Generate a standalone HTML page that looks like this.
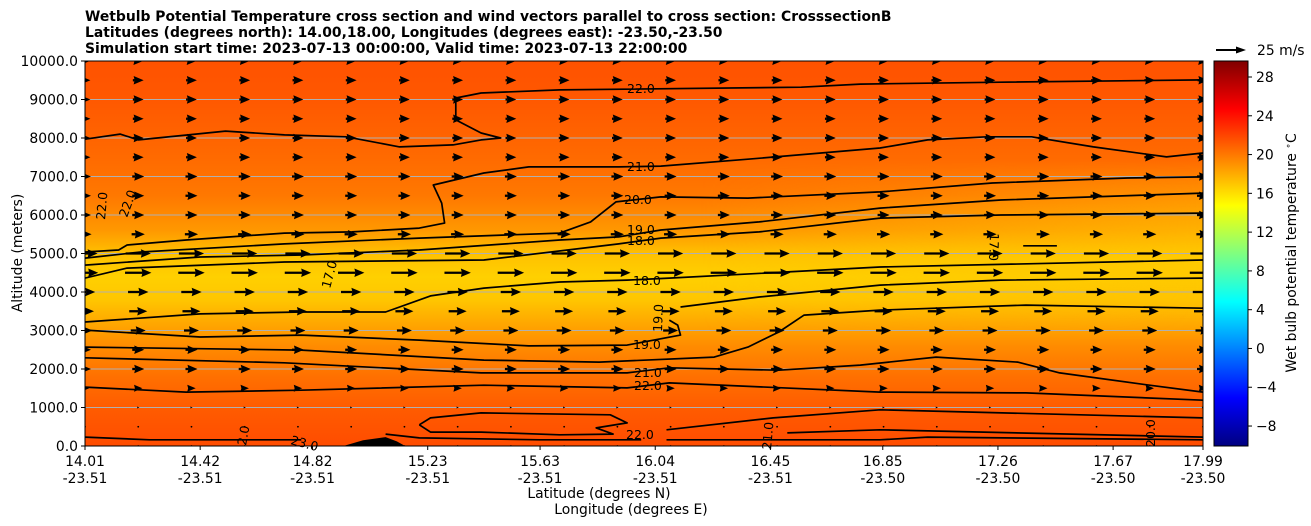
<!DOCTYPE html>
<html><head><meta charset="utf-8">
<style>
html,body{margin:0;padding:0;background:#fff;}
svg{display:block;font-family:"DejaVu Sans","Liberation Sans",sans-serif;}
</style></head>
<body>
<svg id="chart" width="1311" height="526" viewBox="0 0 1311 526" xmlns="http://www.w3.org/2000/svg">
<defs>
<linearGradient id="fillGrad" x1="0" y1="0" x2="0" y2="1">
<stop offset="0" stop-color="#ff5200"/>
<stop offset="0.1" stop-color="#ff5800"/>
<stop offset="0.25" stop-color="#ff6a00"/>
<stop offset="0.35" stop-color="#ff7800"/>
<stop offset="0.44" stop-color="#ff9800"/>
<stop offset="0.5" stop-color="#ffc000"/>
<stop offset="0.56" stop-color="#ffd000"/>
<stop offset="0.62" stop-color="#ffc600"/>
<stop offset="0.68" stop-color="#ffa800"/>
<stop offset="0.74" stop-color="#ff8c00"/>
<stop offset="0.82" stop-color="#ff7000"/>
<stop offset="0.9" stop-color="#ff5c00"/>
<stop offset="1" stop-color="#ff4c00"/>
</linearGradient>
<linearGradient id="rightGrad" x1="0" y1="0" x2="0" y2="1">
<stop offset="0" stop-color="#ffb400" stop-opacity="0"/>
<stop offset="0.3" stop-color="#ffb000" stop-opacity="0.7"/>
<stop offset="0.55" stop-color="#ffcc00" stop-opacity="0.8"/>
<stop offset="1" stop-color="#ffb000" stop-opacity="0"/>
</linearGradient>
<linearGradient id="rightMask" x1="0" y1="0" x2="1" y2="0">
<stop offset="0" stop-color="#fff" stop-opacity="0"/>
<stop offset="1" stop-color="#fff" stop-opacity="1"/>
</linearGradient>
<mask id="rm"><rect x="700" y="61" width="503" height="385" fill="url(#rightMask)"/></mask>
<linearGradient id="jet" x1="0" y1="1" x2="0" y2="0">
<stop offset="0" stop-color="#000080"/>
<stop offset="0.125" stop-color="#0000ff"/>
<stop offset="0.375" stop-color="#00ffff"/>
<stop offset="0.625" stop-color="#ffff00"/>
<stop offset="0.875" stop-color="#ff0000"/>
<stop offset="1" stop-color="#800000"/>
</linearGradient>
<clipPath id="plotClip"><rect x="85" y="61" width="1118" height="385"/></clipPath>
</defs>
<g font-weight="bold" font-size="13.9" fill="#000">
<text x="85" y="21">Wetbulb Potential Temperature cross section and wind vectors parallel to cross section: CrosssectionB</text>
<text x="85" y="37">Latitudes (degrees north): 14.00,18.00, Longitudes (degrees east): -23.50,-23.50</text>
<text x="85" y="53">Simulation start time: 2023-07-13 00:00:00, Valid time: 2023-07-13 22:00:00</text>
</g>
<rect x="85" y="61" width="1118" height="385" fill="url(#fillGrad)"/>
<rect x="700" y="160" width="503" height="180" fill="url(#rightGrad)" mask="url(#rm)"/>
<g id="grid"></g>
<g id="contours" clip-path="url(#plotClip)"></g>
<g id="arrows" clip-path="url(#plotClip)"></g>
<g font-size="12.5" fill="#000">
<text x="627" y="93">22.0</text>
<text x="627" y="171">21.0</text>
<text x="624" y="204">20.0</text>
<text x="627" y="234">19.0</text>
<text x="627" y="245">18.0</text>
<text x="633" y="285">18.0</text>
<text x="633" y="349">19.0</text>
<text x="634" y="377">21.0</text>
<text x="634" y="390">22.0</text>
<text x="626" y="439">22.0</text>
<text x="290" y="444" transform="rotate(15 290 444)">23.0</text>
<text transform="translate(105,220) rotate(-85)">22.0</text>
<text transform="translate(127,218) rotate(-70)">22.0</text>
<text transform="translate(330,289) rotate(-75)">17.0</text>
<text transform="translate(662,332) rotate(-88)">19.0</text>
<text transform="translate(246,446) rotate(-80)">2.0</text>
<text transform="translate(771,450) rotate(-85)">21.0</text>
<text transform="translate(1155,447) rotate(-90)">20.0</text>
<text transform="translate(990,233) rotate(92)">17.0</text>
</g>
<rect x="85" y="61" width="1118" height="385" fill="none" stroke="#000" stroke-width="1"/>
<g id="yaxis" font-size="13.9"></g>
<g id="xaxis" font-size="13.9"></g>
<text font-size="13.9" transform="translate(22,253) rotate(-90)" text-anchor="middle">Altitude (meters)</text>
<text font-size="13.9" x="599" y="498" text-anchor="middle">Latitude (degrees N)</text>
<text font-size="13.9" x="631" y="514" text-anchor="middle">Longitude (degrees E)</text>
<g>
<line x1="1216" y1="50" x2="1238" y2="50" stroke="#000" stroke-width="2"/>
<polygon points="1246,50 1236,46.5 1236,53.5" fill="#000"/>
<text x="1257" y="55" font-size="13.9">25 m/s</text>
</g>
<rect x="1214" y="61" width="34" height="385" fill="url(#jet)" stroke="#000" stroke-width="1"/>
<g id="cbticks" font-size="13.9"></g>
<text font-size="13.9" transform="translate(1296,253) rotate(-90)" text-anchor="middle">Wet bulb potential temperature <tspan baseline-shift="super" font-size="9">∘</tspan>C</text>
</svg>
<script>
const NS='http://www.w3.org/2000/svg';
const latMin=14.01, latMax=17.99, altMax=10000;
const xTickLat=['14.01','14.42','14.82','15.23','15.63','16.04','16.45','16.85','17.26','17.67','17.99'];
const xTickLon=['-23.51','-23.51','-23.51','-23.51','-23.51','-23.51','-23.51','-23.50','-23.50','-23.50','-23.50'];
const yTicks=[0,1000,2000,3000,4000,5000,6000,7000,8000,9000,10000];
const cbTicks=[-8,-4,0,4,8,12,16,20,24,28];
const cbMin=-10.06, cbMax=29.65;
const windAlts=[0,500,1000,1500,2000,2500,3000,3500,4000,4500,5000,5500,6000,6500,7000,7500,8000,8500,9000,9500,10000];
const windSpeed=[0,0.8,2,7,10,10,12.5,15,17,22,21,11,10,10,10,9,9,9,9,9,8];
const windCols=22;
const c22aLat=[14.01,14.135,14.20,14.51,14.72,14.94,15.13,15.32,15.42,15.49,15.42,15.33,15.33,15.42,15.70,16.56,16.77,17.27,17.99];
const c22aAlt=[7970,8100,7950,8180,8080,8030,7770,7820,7950,8000,8130,8470,9040,9170,9250,9320,9400,9450,9510];
const c21Lat=[14.01,14.13,14.16,14.37,14.72,14.96,15.20,15.29,15.28,15.25,15.43,15.59,15.91,16.06,16.37,16.84,17.01,17.22,17.38,17.60,17.86,17.99];
const c21Alt=[5040,5090,5220,5350,5530,5560,5660,5790,6310,6780,7090,7250,7250,7270,7450,7740,7950,8030,8030,7770,7510,7610];
const c20Lat=[14.01,14.21,14.72,15.20,15.70,15.81,15.90,16.06,16.37,16.84,17.24,17.72,17.99];
const c20Alt=[4880,5040,5250,5400,5530,5820,6340,6470,6440,6600,6830,6960,6990];
const c19Lat=[14.01,14.42,14.78,15.20,15.70,15.91,16.06,16.41,16.84,17.27,17.99];
const c19Alt=[4700,4910,4960,5090,5350,5430,5610,5820,6180,6390,6570];
const c18uLat=[14.01,14.16,14.72,15.43,15.91,16.06,16.41,16.84,17.27,17.99];
const c18uAlt=[4360,4620,4780,4830,5250,5400,5560,5920,6000,6050];
const c17Lat=[17.35,17.47];
const c17Alt=[5200,5200];
const c18lLat=[14.01,14.42,14.78,15.08,15.24,15.43,15.70,15.94,16.09,16.84,17.99];
const c18lAlt=[3220,3430,3480,3480,3900,4100,4260,4310,4360,4650,4830];
const c19lLat=[14.01,14.42,14.78,15.20,15.59,15.94,16.13,16.12,16.09];
const c19lAlt=[3010,2830,2880,2750,2600,2620,2880,3140,3270];
const c19bLat=[16.13,16.41,16.84,17.27,17.99];
const c19bAlt=[3610,3870,4180,4310,4360];
const c20lLat=[14.01,14.78,15.43,15.84,16.25,16.37,16.48,16.57,16.84,17.36,17.99];
const c20lAlt=[2570,2490,2230,2180,2310,2570,2960,3400,3530,3660,3580];
const c21lLat=[14.01,14.72,15.42,15.94,16.09,16.48,16.77,17.04,17.33,17.48,17.80,17.99];
const c21lAlt=[2290,2160,1900,1900,2030,1970,2100,2310,2180,1900,1580,1400];
const c22lLat=[14.01,14.37,14.78,15.43,15.94,16.09,16.84,17.36,17.99];
const c22lAlt=[1530,1400,1450,1580,1510,1640,1400,1380,1190];
const cb1Lat=[16.08,16.46,16.84,17.99]; const cb1Alt=[420,730,940,730];
const cb2Lat=[16.51,16.84,17.99]; const cb2Alt=[340,420,230];
const cb3Lat=[16.08,16.84,17.01,17.99]; const cb3Alt=[160,160,230,160];
const cb4Lat=[14.01,14.24,14.78]; const cb4Alt=[230,160,160];
const cb5Lat=[15.08,15.20,15.63,15.99]; const cb5Alt=[310,210,160,160];
const loopLat=[15.20,15.24,15.42,15.88,15.94,15.83,15.89,15.70,15.42,15.24,15.20];
const loopAlt=[550,730,860,810,600,470,310,290,360,360,550];
const blobLat=[14.93,15.0,15.08,15.12,15.15];
const blobAlt=[0,150,230,120,0];

function xS(lat){return 85+(lat-latMin)/(latMax-latMin)*1118;}
function yS(alt){return 446-alt/altMax*385;}
function cbY(v){return 446-(v-cbMin)/(cbMax-cbMin)*385;}
function mk(tag,attrs,parent){const e=document.createElementNS(NS,tag);for(const k in attrs)e.setAttribute(k,attrs[k]);parent.appendChild(e);return e;}

const grid=document.getElementById('grid');
const yax=document.getElementById('yaxis');
yTicks.forEach(function(v){
  const y=yS(v);
  if(v>0 && v<altMax){
    const g=mk('line',{x1:85,x2:1203,y1:y,y2:y,stroke:'#b0b0b0','stroke-width':1},grid);
    
    
  }
  mk('line',{x1:81,x2:85,y1:y,y2:y,stroke:'#000'},yax);
  const t=mk('text',{x:78,y:y+5,'text-anchor':'end'},yax);
  
  
  t.textContent=v.toFixed(1);
});
const xax=document.getElementById('xaxis');
xTickLat.forEach(function(lat,i){
  const x=xS(parseFloat(lat));
  mk('line',{x1:x,x2:x,y1:446,y2:450,stroke:'#000'},xax);
  const t=mk('text',{x:x,y:466,'text-anchor':'middle'},xax);
  
  
  t.textContent=lat;
  const t2=mk('text',{x:x,y:483,'text-anchor':'middle'},xax);
  
  
  t2.textContent=xTickLon[i];
});
const cbt=document.getElementById('cbticks');
cbTicks.forEach(function(v){
  const y=cbY(v);
  mk('line',{x1:1248,x2:1252,y1:y,y2:y,stroke:'#000'},cbt);
  const t=mk('text',{x:1256,y:y+5},cbt);
  
  
  t.textContent=(v<0)?'\u2212'+Math.abs(v):String(v);
});

const cg=document.getElementById('contours');
const lines=[[c22aLat,c22aAlt],[c21Lat,c21Alt],[c20Lat,c20Alt],[c19Lat,c19Alt],[c18uLat,c18uAlt],[c17Lat,c17Alt],[c18lLat,c18lAlt],[c19lLat,c19lAlt],[c19bLat,c19bAlt],[c20lLat,c20lAlt],[c21lLat,c21lAlt],[c22lLat,c22lAlt],[cb1Lat,cb1Alt],[cb2Lat,cb2Alt],[cb3Lat,cb3Alt],[cb4Lat,cb4Alt],[cb5Lat,cb5Alt],[loopLat,loopAlt]];
lines.forEach(function(pair){
  const la=pair[0], al=pair[1];
  const pts=la.map(function(l,i){return xS(l).toFixed(1)+','+yS(al[i]).toFixed(1);}).join(' ');
  const p=mk('polyline',{points:pts,fill:'none',stroke:'#000','stroke-width':1.7,'stroke-linejoin':'round'},cg);
  
  
});
const blob=mk('polygon',{points:blobLat.map(function(l,i){return xS(l).toFixed(1)+','+yS(blobAlt[i]).toFixed(1);}).join(' '),fill:'#000'},cg);



const ag=document.getElementById('arrows');
const pxPerMs=30/25;
windAlts.forEach(function(alt,r){
  const L=windSpeed[r]*pxPerMs;
  const y=yS(alt);
  for(let c=0;c<windCols;c++){
    const x=xS(latMin+(latMax-latMin)*c/(windCols-1));
    const x0=x-L/2, x1=x+L/2;
    const hl=Math.min(10,L), hh=Math.max(1,hl*0.42);
    const g=mk('g',{},ag);
    
    
    if(L<1.5){mk('circle',{cx:x,cy:y,r:0.9,fill:'#000'},g);continue;}
    if(L>hl) mk('line',{x1:x0,y1:y,x2:x1-hl+1,y2:y,stroke:'#000','stroke-width':2.3},g);
    mk('polygon',{points:x1+','+y+' '+(x1-hl)+','+(y-hh)+' '+(x1-hl*0.9)+','+y+' '+(x1-hl)+','+(y+hh),fill:'#000'},g);
  }
});
</script>
</body></html>
